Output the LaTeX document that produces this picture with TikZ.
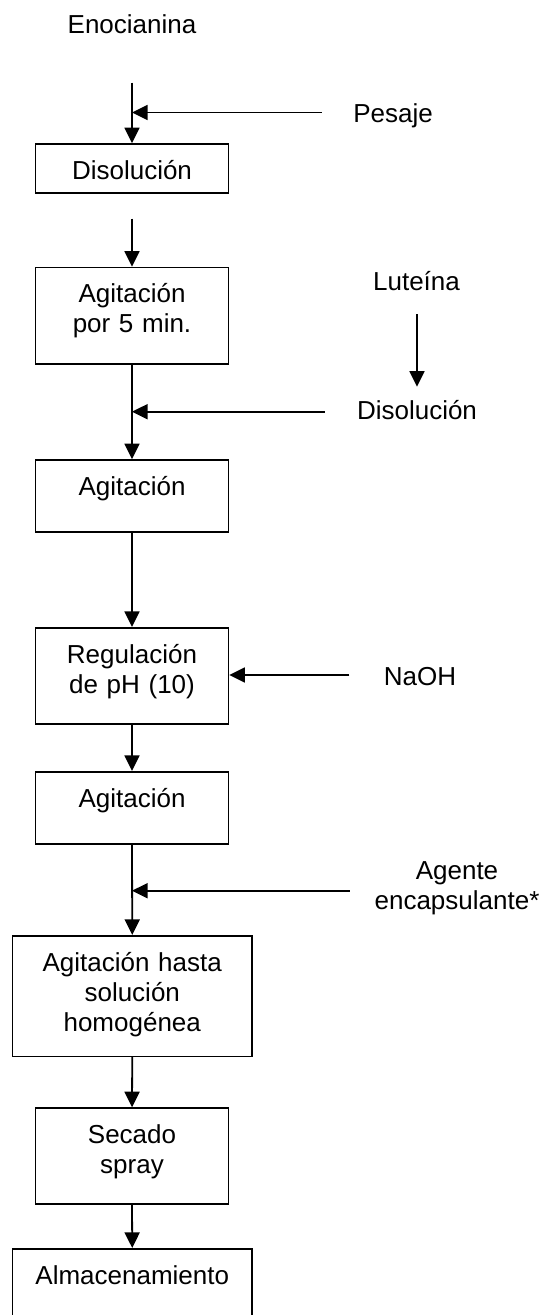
\documentclass[tikz,border=0pt]{standalone}
\usepackage{fontspec}
\setmainfont{Liberation Sans}
\usetikzlibrary{arrows.meta}
\begin{document}
\begin{tikzpicture}[x=0.5pt,y=-0.5pt,
  font=\fontsize{13}{15}\selectfont,
  arr/.style={line width=0.9pt,-{Triangle[length=7.8pt,width=7.5pt]}},
  plainln/.style={line width=0.9pt},
  boxn/.style={draw,line width=0.75pt,rectangle,inner xsep=0pt,inner ysep=0pt,
    text width=96.5pt,align=center,text height=17.75pt,anchor=north},
  boxw/.style={boxn,text width=119.75pt},
  lbl/.style={inner sep=0pt,anchor=base},
  lblm/.style={inner sep=0pt,anchor=base,text width=100pt,align=center}]
\clip (0,0) rectangle (542,1315);
\fill[white] (0,0) rectangle (542,1315);

% boxes
\node[boxn,text depth=6.75pt]  (b1) at (132,143.3)  {Disolución};
\node[boxn,text depth=30.55pt] (b2) at (132,266.7)  {Agitación\\por 5 min.};
\node[boxn,text depth=18.1pt]  (b3) at (132,459.3)  {Agitación};
\node[boxn,text depth=30.4pt]  (b4) at (132,627)    {Regulación\\de pH (10)};
\node[boxn,text depth=18.4pt]  (b5) at (132,771)    {Agitación};
\node[boxw,text depth=42.6pt]  (b6) at (132.25,935) {Agitación hasta\\solución\\homogénea};
\node[boxn,text depth=30.25pt] (b7) at (132,1107.3) {Secado\\spray};
\node[boxw,text depth=30.25pt] (b8) at (132.25,1248) {Almacenamiento};

% side labels
\node[lbl] (eno) at (132,33.3) {Enocianina};
\node[lbl] (pes) at (393,122.7) {Pesaje};
\node[lbl] (lut) at (416.5,290.7) {Luteína};
\node[lbl] (dis2) at (417,420) {Disolución};
\node[lbl] (naoh) at (420,685) {NaOH};
\node[lblm] (age) at (457,879) {Agente\\encapsulante*};

% free ends
\coordinate (c0) at (132,82.7);
\coordinate (p1) at (321.5,112.5);
\coordinate (c1) at (132,218.7);
\coordinate (la) at (417,314.3);
\coordinate (lb) at (417,386.7);
\coordinate (d1) at (324.7,411.7);
\coordinate (n1) at (349.3,675);
\coordinate (a1) at (349.5,890.7);

% main flow
\draw[arr] (c0) -- (b1.north);
\draw[arr] (p1) -- (p1 -| c0);
\draw[arr] (c1) -- (b2.north);
\draw[arr] (b2.south) -- (b3.north);
\draw[arr] (d1) -- (d1 -| b2.south);
\draw[arr] (la) -- (lb);
\draw[arr] (b3.south) -- (b4.north);
\draw[arr] (n1) -- (n1 -| b4.east);
\draw[arr] (b4.south) -- (b5.north);
\draw[arr] (b5.south) -- (b6.north);
\draw[arr] (a1) -- (a1 -| b5.south);
\draw[arr] (b6.south) -- (b7.north);
\draw[arr] (b7.south) -- (b8.north);
\end{tikzpicture}
\end{document}
